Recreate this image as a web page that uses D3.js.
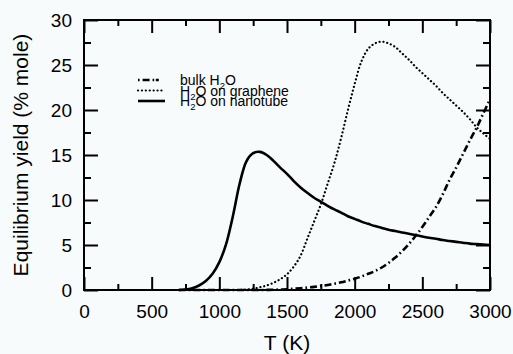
<!DOCTYPE html>
<html lang="en">
<head>
  <meta charset="UTF-8">
  <title>Equilibrium yield vs T</title>
  <style>
    html, body { margin: 0; padding: 0; background: #f8fbfc; }
    svg { display: block; font-family: "Liberation Sans", Arial, sans-serif; }
  </style>
</head>
<body>
  <div id="chart"></div>

  <script src="https://d3js.org/d3.v7.min.js"></script>
  <script>
    // temperatures (K) shared by the three series
    const temps = [700, 750, 800, 850, 900, 950, 1000, 1050, 1100, 1150, 1200, 1250, 1300, 1350,
      1400, 1450, 1500, 1550, 1600, 1650, 1700, 1750, 1800, 1850, 1900, 1950, 2000, 2050, 2100,
      2150, 2200, 2250, 2300, 2350, 2400, 2450, 2500, 2550, 2600, 2650, 2700, 2750, 2800, 2850,
      2900, 2950, 3000];

    // yields (% mole)
    const nanotube = [0, 0.05, 0.2, 0.5, 1.0, 1.8, 3.1, 5.1, 8.2, 11.8, 14.3, 15.2, 15.35, 15.0,
      14.35, 13.6, 12.9, 12.1, 11.4, 10.8, 10.25, 9.8, 9.35, 8.95, 8.6, 8.2, 7.9, 7.6, 7.35,
      7.1, 6.9, 6.7, 6.55, 6.4, 6.25, 6.1, 5.95, 5.8, 5.7, 5.55, 5.45, 5.35, 5.25, 5.15,
      5.1, 5.05, 5.0];
    const graphene = [0, 0, 0, 0, 0, 0, 0, 0, 0, 0, 0.05, 0.15, 0.3, 0.5,
      0.8, 1.2, 1.75, 2.6, 3.8, 5.7, 7.6, 9.5, 11.8, 14.1, 16.9, 20.0, 22.9, 25.4, 26.8,
      27.4, 27.6, 27.4, 27.0, 26.3, 25.6, 24.8, 24.1, 23.4, 22.7, 21.9, 21.2, 20.5, 19.8, 19.0,
      18.1, 17.4, 16.8];
    const bulk = [0, 0, 0, 0, 0, 0, 0, 0, 0, 0, 0, 0, 0, 0.01,
      0.02, 0.05, 0.08, 0.14, 0.2, 0.27, 0.35, 0.45, 0.55, 0.7, 0.85, 1.05, 1.25, 1.5, 1.8,
      2.1, 2.5, 3.0, 3.6, 4.3, 5.1, 6.0, 7.0, 8.1, 9.2, 10.6, 12.2, 13.6, 15.1, 16.6,
      18.0, 19.6, 21.2];

    const xTicks = [0, 500, 1000, 1500, 2000, 2500, 3000];
    const xMinor = [250, 750, 1250, 1750, 2250, 2750];
    const yTicks = [0, 5, 10, 15, 20, 25, 30];
    const yMinor = [2.5, 7.5, 12.5, 17.5, 22.5, 27.5];

    const W = 513, H = 354;
    const margin = { top: 20, right: 23, bottom: 64, left: 84 };
    const width = W - margin.left - margin.right;
    const height = H - margin.top - margin.bottom;

    const svg = d3.select("#chart").append("svg")
      .attr("width", W)
      .attr("height", H);

    const g = svg.append("g")
      .attr("transform", `translate(${margin.left},${margin.top})`);

    const x = d3.scaleLinear().domain([0, 3000]).range([0, width]);
    const y = d3.scaleLinear().domain([0, 30]).range([height, 0]);

    // curves
    const line = d3.line()
      .x(d => x(d[0]))
      .y(d => y(d[1]))
      .curve(d3.curveCatmullRom.alpha(0.5));

    const series = [
      { values: bulk, dash: "7,3,1.6,3", width: 2.6, cap: "butt" },
      { values: graphene, dash: "0.1,3.8", width: 2.2, cap: "round" },
      { values: nanotube, dash: null, width: 2.6, cap: "butt" }
    ];

    series.forEach(s => {
      g.append("path")
        .datum(temps.map((t, i) => [t, s.values[i]]))
        .attr("fill", "none")
        .attr("stroke", "#000")
        .attr("stroke-width", s.width)
        .attr("stroke-linecap", s.cap)
        .attr("stroke-dasharray", s.dash)
        .attr("d", line);
    });

    // axes with inward ticks on all four sides
    function styleAxis(sel) {
      sel.select(".domain").remove();
      sel.selectAll(".tick line").attr("stroke", "#000").attr("stroke-width", 2);
      sel.selectAll("text").attr("fill", "#000").style("font-size", "19px");
    }

    g.append("g").attr("transform", `translate(0,${height})`)
      .call(d3.axisBottom(x).tickValues(xTicks).tickSize(-13).tickPadding(15).tickFormat(d3.format("d")))
      .call(styleAxis);
    g.append("g").attr("transform", `translate(0,${height})`)
      .call(d3.axisBottom(x).tickValues(xMinor).tickSize(-6).tickFormat(""))
      .call(styleAxis);
    g.append("g")
      .call(d3.axisTop(x).tickValues(xTicks).tickSize(-13).tickFormat(""))
      .call(styleAxis);
    g.append("g")
      .call(d3.axisTop(x).tickValues(xMinor).tickSize(-6).tickFormat(""))
      .call(styleAxis);

    g.append("g")
      .call(d3.axisLeft(y).tickValues(yTicks).tickSize(-14).tickPadding(12))
      .call(styleAxis);
    g.append("g")
      .call(d3.axisLeft(y).tickValues(yMinor).tickSize(-7).tickFormat(""))
      .call(styleAxis);
    g.append("g").attr("transform", `translate(${width},0)`)
      .call(d3.axisRight(y).tickValues(yTicks).tickSize(-14).tickFormat(""))
      .call(styleAxis);
    g.append("g").attr("transform", `translate(${width},0)`)
      .call(d3.axisRight(y).tickValues(yMinor).tickSize(-7).tickFormat(""))
      .call(styleAxis);

    // frame
    g.append("rect")
      .attr("width", width)
      .attr("height", height)
      .attr("fill", "none")
      .attr("stroke", "#000")
      .attr("stroke-width", 2);

    // axis titles
    svg.append("text")
      .attr("x", margin.left + width / 2)
      .attr("y", 350)
      .attr("text-anchor", "middle")
      .style("font-size", "21px")
      .text("T (K)");

    svg.append("text")
      .attr("transform", `translate(28,${margin.top + height / 2}) rotate(-90)`)
      .attr("text-anchor", "middle")
      .style("font-size", "21px")
      .text("Equilibrium yield (% mole)");

    // legend
    const legendItems = [
      { pre: "bulk H", post: "O", dash: "1.6,3,7,3,1.6", width: 2.6, cap: "butt" },
      { pre: "H", post: "O on graphene", dash: "0.1,3.8", width: 2.2, cap: "round" },
      { pre: "H", post: "O on nanotube", dash: null, width: 2.6, cap: "butt" }
    ];
    const legend = svg.append("g").attr("transform", "translate(138,80)");
    legendItems.forEach((d, i) => {
      const row = legend.append("g").attr("transform", `translate(0,${i * 10.5})`);
      row.append("line")
        .attr("x1", 0).attr("x2", 27)
        .attr("stroke", "#000")
        .attr("stroke-width", d.width)
        .attr("stroke-linecap", d.cap)
        .attr("stroke-dasharray", d.dash);
      const t = row.append("text")
        .attr("x", 42)
        .attr("y", 5)
        .style("font-size", "14px");
      t.append("tspan").text(d.pre);
      t.append("tspan").attr("dy", 4).style("font-size", "9.5px").text("2");
      t.append("tspan").attr("dy", -4).text(d.post);
    });
  </script>
</body>
</html>
